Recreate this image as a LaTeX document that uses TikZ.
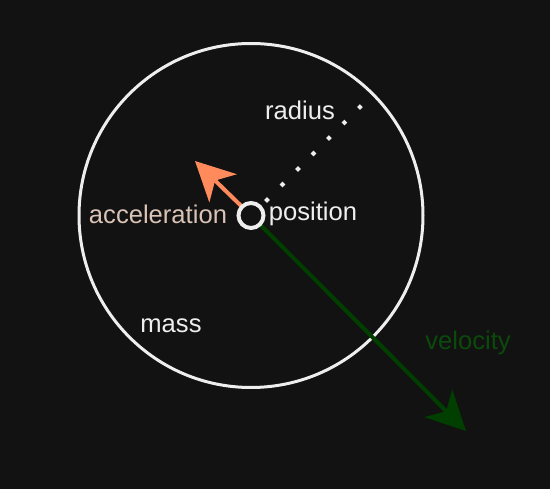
\documentclass[tikz,border=0pt]{standalone}
\usepackage{fontspec}
\setmainfont{Liberation Sans}
\usetikzlibrary{arrows.meta}
\definecolor{bg}{HTML}{121212}
\definecolor{fg}{HTML}{EEEEEE}
\definecolor{accel}{HTML}{FF8A5C}
\definecolor{acceltext}{HTML}{D9C2B6}
\definecolor{vel}{HTML}{003F00}
\definecolor{veltext}{HTML}{0B4A0B}
\tikzset{
  lbl/.style={font=\fontsize{25.6}{30}\selectfont, inner sep=0pt},
  vec/.style={line width=4pt, -{Stealth[length=39pt, width=39pt, inset=11pt]}},
}
\begin{document}
\begin{tikzpicture}[x=1pt,y=-1pt]
\fill[bg] (0,0) rectangle (550,489);
\useasboundingbox (0,0) rectangle (550,489);
\node[draw=fg, line width=3pt, circle, minimum size=344pt, inner sep=0pt] (body) at (251,215.5) {};
\coordinate (c) at (251,215.5);
\coordinate (atip) at (195,161);
\coordinate (vtip) at (466,431);
\coordinate (r0) at (265.6,201.4);
\coordinate (r1) at (361.4,105.6);
\draw[fg, line width=4pt, dash pattern=on 4pt off 17.9pt] (r0) -- (r1);
\draw[vec, vel] (c) -- (vtip);
\draw[vec, accel] (c) -- (atip);
\node[draw=fg, fill=bg, line width=4pt, circle, minimum size=25pt, inner sep=0pt] (pos) at (c) {};
\node[lbl, text=fg] (radius) at (300,110) {radius};
\node[lbl, text=acceltext] (acc) at (158,214) {acceleration};
\node[lbl, text=fg] (position) at (313,214) {position};
\node[lbl, text=fg] (mass) at (171,326) {mass};
\node[lbl, text=veltext] (velocity) at (468,343) {velocity};
\end{tikzpicture}
\end{document}
